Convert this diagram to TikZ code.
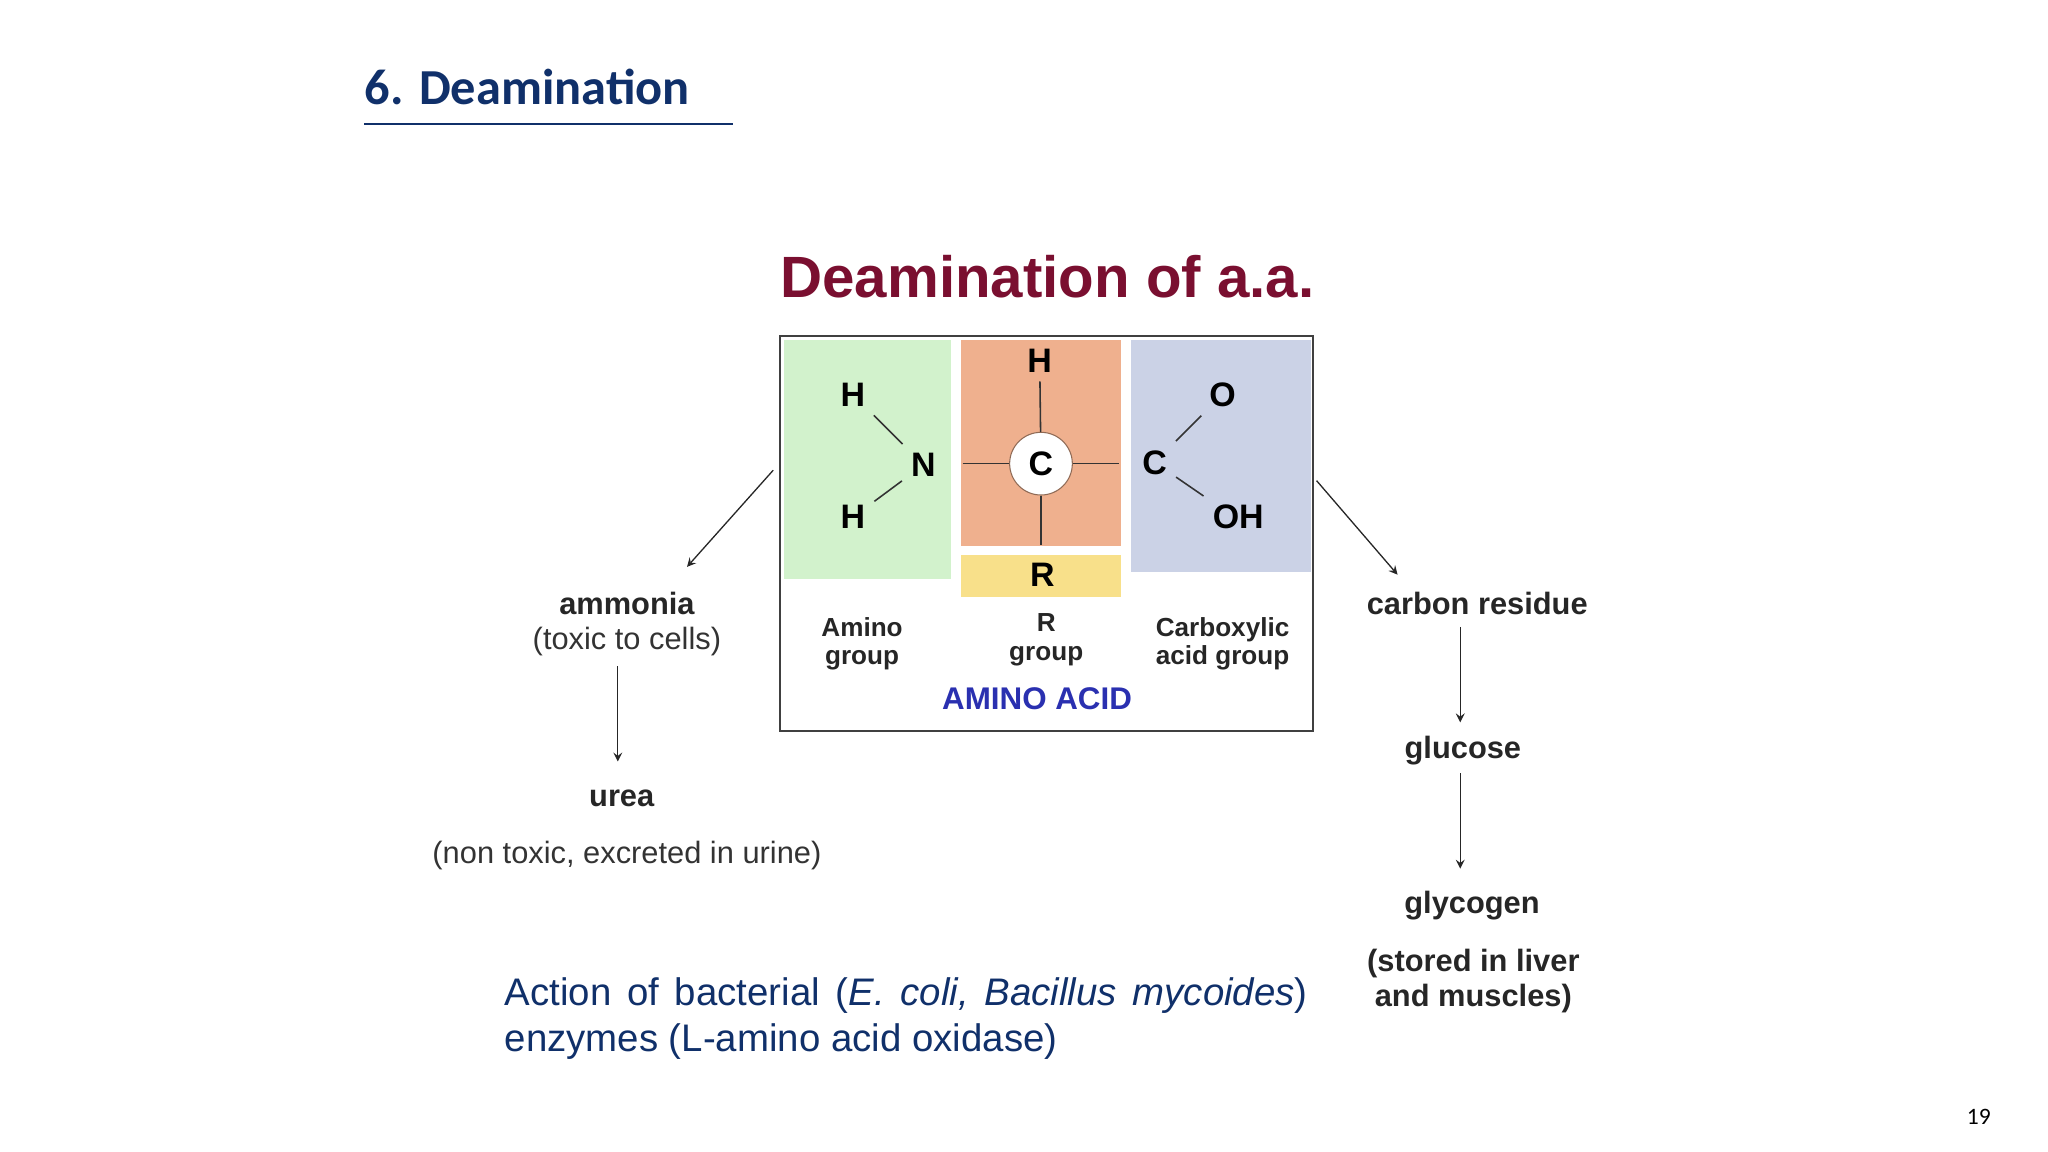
\documentclass[tikz,border=0pt]{standalone}
\usepackage{fontspec}
\setmainfont{Liberation Sans}
\newfontfamily\calfam{Carlito}
\definecolor{navy}{HTML}{10306A}
\definecolor{dred}{HTML}{7A0F30}
\definecolor{gfill}{HTML}{D2F2CC}
\definecolor{ofill}{HTML}{EFB08E}
\definecolor{yfill}{HTML}{F8E08A}
\definecolor{bfill}{HTML}{CBD2E6}
\definecolor{aablue}{HTML}{2A30B0}
\begin{document}
\begin{tikzpicture}[x=0.5pt,y=-0.5pt,
  atom/.style={font=\fontsize{13}{14}\selectfont\bfseries},
  lbl/.style={font=\fontsize{10}{11}\selectfont\bfseries,align=center,text=black!85},
  big/.style={font=\fontsize{11.8}{13}\selectfont\bfseries,align=center,text=black!85},
  sub/.style={font=\fontsize{11.8}{13}\selectfont,align=center,text=black!80},
  bond/.style={black!80,line width=0.6pt},
  arr/.style={-stealth,black!85,line width=0.5pt}]
\useasboundingbox (0,0) rectangle (1568,882);
\node[anchor=base west,inner sep=0,text=navy,font=\calfam\fontsize{19.3}{22}\selectfont\bfseries] (title) at (279,80) {6. Deamination};
\draw[navy,line width=0.5pt] (279,95) -- (561,95);
\node[text=dred,font=\fontsize{22.3}{24}\selectfont\bfseries] (head) at (802,212) {Deamination of a.a.};
% box
\fill[gfill] (600,260) rectangle (728,443);
\fill[ofill] (736,260) rectangle (858,418);
\fill[yfill] (736,425) rectangle (858,457);
\fill[bfill] (866,260) rectangle (1004,438);
\draw[black!75,line width=0.8pt] (597,257) rectangle (1005,560);
\node[atom] (h1) at (653,302) {H};
\node[atom] (n) at (707,356) {N};
\node[atom] (h2) at (653,396) {H};
\draw[bond] (h1) -- (n); \draw[bond] (h2) -- (n);
\node[atom,circle,fill=white,draw=ofill!60!black,minimum size=24pt,inner sep=0] (c) at (797,355) {C};
\node[atom] (h3) at (796,276) {H};
\node[atom] (r) at (798,440) {R};
\coordinate (cl) at (737,355); \coordinate (cr) at (857,355); \coordinate (cb) at (797,417);
\draw[bond] (h3) -- (c); \draw[bond] (c) -- (cb); \draw[bond] (cl) -- (c); \draw[bond] (c) -- (cr);
\node[atom] (c2) at (884,354) {C};
\node[atom] (o) at (936,302) {O};
\node[atom] (oh) at (948,396) {OH};
\draw[bond] (c2) -- (o); \draw[bond] (c2) -- (oh.north west);
\node[lbl] (ag) at (660,493) {Amino\\group};
\node[lbl] (rg) at (801,490) {R\\group};
\node[lbl] (cg) at (936,493) {Carboxylic\\acid group};
\node[text=aablue,font=\fontsize{12}{13}\selectfont\bfseries] (aa) at (794,535) {AMINO ACID};
% left
\coordinate (l1) at (592,360);
\node[big] (amm) at (480,462) {ammonia};
\node[sub] (tox) at (480,491) {(toxic to cells)};
\draw[arr] (l1) -- (526,434);
\node[big] (urea) at (476,611) {urea};
\draw[arr] (473,510) -- (473,583);
\node[sub] (nt) at (480,655) {(non toxic, excreted in urine)};
% right
\coordinate (r1) at (1008,368);
\node[big] (cres) at (1131,462) {carbon residue};
\draw[arr] (r1) -- (1070,440);
\node[big] (glu) at (1120,575) {glucose};
\draw[arr] (1118,480) -- (1118,553);
\node[big] (gly) at (1127,693) {glycogen};
\draw[arr] (1118,592) -- (1118,665);
\node[big,font=\fontsize{11.8}{13.5}\selectfont\bfseries] (st) at (1128,751) {(stored in liver\\and muscles)};
% bottom
\node[anchor=base west,inner sep=0,text=navy,font=\fontsize{14.7}{17.5}\selectfont] (act) at (386,770)
 {Action\hspace{0.41em}of\hspace{0.41em}bacterial\hspace{0.41em}(\textit{E.\hspace{0.41em}coli,\hspace{0.41em}Bacillus\hspace{0.41em}mycoides})};
\node[anchor=base west,inner sep=0,text=navy,font=\fontsize{14.7}{17.5}\selectfont] (act2) at (386,805)
 {enzymes (L-amino acid oxidase)};
\node[font=\calfam\fontsize{9}{10}\selectfont] (pg) at (1515,855) {19};
\end{tikzpicture}
\end{document}
